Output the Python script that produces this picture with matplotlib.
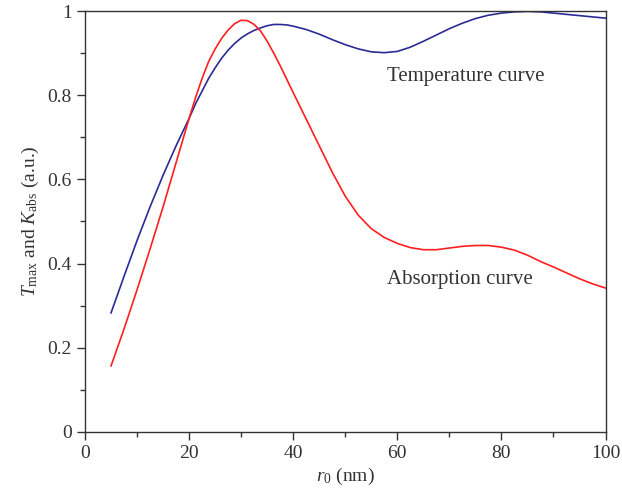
import matplotlib
matplotlib.use("Agg")
import matplotlib.pyplot as plt
from matplotlib.ticker import MultipleLocator

# values (denser around the peaks)
r0 = [5, 7.5, 10, 12.5, 15, 17.5, 20, 21.25, 22.5, 23.75, 25, 26.25, 27.5,
      28.75, 30, 31.25, 32.5, 33.75, 35, 36.25, 37.5, 38.75, 40,
      42.5, 45, 47.5, 50, 52.5, 55, 57.5, 60, 62.5, 65, 67.5, 70, 72.5, 75,
      77.5, 80, 82.5, 85, 87.5, 90, 92.5, 95, 97.5, 100]
t_max = [0.283, 0.37, 0.455, 0.535, 0.61, 0.68, 0.745, 0.78, 0.81, 0.84,
         0.865, 0.888, 0.907, 0.923, 0.936, 0.946, 0.954, 0.96, 0.965, 0.968,
         0.968, 0.967, 0.964,
         0.956, 0.945, 0.932, 0.92, 0.91, 0.903, 0.901, 0.904, 0.914, 0.928,
         0.943, 0.958, 0.971, 0.982, 0.99, 0.995, 0.998, 0.999, 0.998, 0.995,
         0.992, 0.989, 0.986, 0.983]
k_abs = [0.157, 0.245, 0.338, 0.435, 0.535, 0.64, 0.745, 0.795, 0.84, 0.88,
         0.91, 0.935, 0.955, 0.97, 0.978, 0.977, 0.968, 0.952, 0.928, 0.9,
         0.87, 0.838, 0.806,
         0.743, 0.68, 0.617, 0.56, 0.515, 0.483, 0.462, 0.448, 0.438, 0.433,
         0.433, 0.437, 0.441, 0.443, 0.443, 0.439, 0.432, 0.42, 0.405, 0.392,
         0.378, 0.364, 0.352, 0.342]

plt.rcParams['font.family'] = ['Liberation Serif', 'DejaVu Serif']
plt.rcParams['mathtext.fontset'] = 'custom'
plt.rcParams['mathtext.rm'] = 'Liberation Serif'
plt.rcParams['mathtext.it'] = 'Liberation Serif:italic'

txt = '#333333'
fig = plt.figure(figsize=(6.22, 5.0), dpi=100)
ax = fig.add_axes([0.1367, 0.136, 0.8368, 0.842])

ax.plot(r0, t_max, color='#2b2b96', lw=1.2)
ax.plot(r0, k_abs, color='#ff1f1f', lw=1.2)

ax.text(58.1, 0.845, 'Temperature curve', fontsize=15, color=txt, va='center')
ax.text(58.1, 0.362, 'Absorption curve', fontsize=15, color=txt, va='center')

ax.set_xlim(0, 100)
ax.set_ylim(0, 1)
ax.xaxis.set_major_locator(MultipleLocator(20))
ax.xaxis.set_minor_locator(MultipleLocator(10))
ax.yaxis.set_minor_locator(MultipleLocator(0.1))
ax.set_yticks([0, 0.2, 0.4, 0.6, 0.8, 1.0])
ax.set_yticklabels(['0', '0.2', '0.4', '0.6', '0.8', '1'])

ax.tick_params(which='both', direction='out', top=False, right=False,
               color=txt, labelcolor=txt, labelsize=14, width=1)
ax.tick_params(which='major', length=5.5, pad=4)
ax.tick_params(which='minor', length=3.5)
for s in ax.spines.values():
    s.set_color(txt)
    s.set_linewidth(1)

ax.set_xlabel(r'$r_0$ (nm)', fontsize=14, color=txt, labelpad=3)
ax.set_ylabel(r'$T_{\mathrm{max}}$ and $K_{\mathrm{abs}}$ (a.u.)', fontsize=14,
              color=txt, labelpad=5)

fig.savefig('out.png', dpi=100)
